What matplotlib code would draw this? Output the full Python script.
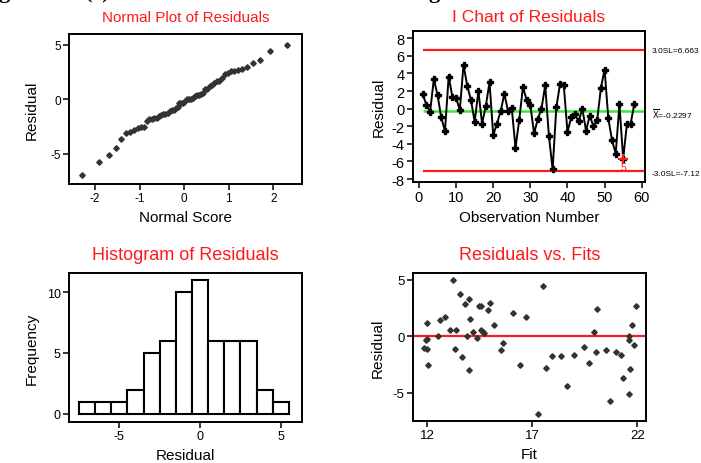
import numpy as np
import matplotlib.pyplot as plt
from matplotlib.transforms import blended_transform_factory
from statistics import NormalDist

plt.rcParams['font.family'] = ['Liberation Sans', 'DejaVu Sans']
plt.rcParams['axes.unicode_minus'] = False

# residuals in observation order
residuals = [1.65, 0.45, -0.35, 3.35, 1.55, -1.0, -2.55, 3.65, 1.35, 1.2,
             -0.15, 5.0, 2.6, 1.0, -1.5, 2.0, -1.7, 0.3, 3.0, -3.0,
             -1.7, -0.3, 1.7, -0.3, 0.05, -4.45, -1.3, 2.45, 1.0, 0.4,
             -2.8, -1.2, 0.0, 2.65, -3.1, -6.9, 0.15, 2.8, 2.7, -2.65,
             -1.0, -0.65, -1.45, 0.0, -2.5, -0.8, -2.0, -1.3, 2.35, 4.45,
             -1.1, -3.6, -5.1, 0.5, -5.7, -1.8, -1.75, 0.55]

# control chart values
ucl = 6.663
center = -0.2297
lcl = -7.12
flag_obs = 55
flag_test = "5"

# fitted values and residuals
fits = [11.84, 11.95, 12.0, 12.0, 12.0, 12.06, 12.54, 12.62, 12.83, 13.08,
        13.25, 13.32, 13.38, 13.57, 13.67, 13.79, 13.92, 13.98, 13.98, 14.05,
        14.19, 14.35, 14.48, 14.56, 14.56, 14.67, 14.71, 14.89, 14.97, 15.17,
        15.51, 15.59, 16.08, 16.41, 16.70, 17.25, 17.52, 17.65, 17.92, 18.35,
        18.63, 18.97, 19.46, 19.71, 19.94, 20.02, 20.06, 20.49, 20.70, 20.97,
        21.24, 21.33, 21.59, 21.59, 21.59, 21.65, 21.73, 21.83, 21.94]
fit_resid = [-1.03, -0.35, -0.24, 1.18, -1.15, -2.53, 0.0, 1.41, 1.68, 0.53,
             5.0, -1.12, 0.53, 3.74, -1.88, 2.82, 0.0, 3.32, -3.03, 1.53,
             0.41, -0.15, 2.71, 2.71, 0.53, 0.38, 0.24, 2.32, 2.94, 1.03,
             -1.26, -0.62, 2.06, -2.53, 1.68, -6.85, 4.47, -2.79, -1.76, -1.76,
             -4.44, -1.62, -0.97, -2.38, 0.41, -1.38, 2.41, -1.24, -5.74, -1.38,
             -1.62, -3.68, 0.0, -0.35, -5.09, -2.88, 1.0, -0.76, 2.68]

RED = '#ff1a1a'


def style(ax, tick_size):
    for s in ax.spines.values():
        s.set_linewidth(1.4)
        s.set_color('black')
    ax.tick_params(direction='out', length=4, width=1.1, labelsize=tick_size,
                   top=False, right=False, pad=2)


fig = plt.figure(figsize=(7.01, 4.64), dpi=100)

# header fragments cut off at the top of the page
for x, s in [(-2, 'g'), (85, '(c)'), (428, 'g')]:
    fig.text(x / 701, 1 + 2 / 464, s, family='Liberation Serif', weight='bold',
             fontsize=16, va='baseline', ha='left')

# normal plot
ax1 = fig.add_axes([0.0984, 0.6013, 0.3324, 0.3233])
r_sorted = np.sort(residuals)
n = len(r_sorted)
scores = [NormalDist().inv_cdf((i - 0.375) / (n + 0.25)) for i in range(1, n + 1)]
ax1.plot(scores, r_sorted, 'D', color='#333333', ms=2.8)
ax1.set_xlim(-2.585, 2.64)
ax1.set_ylim(-7.75, 6.0)
ax1.set_xticks([-2, -1, 0, 1, 2])
ax1.set_yticks([-5, 0, 5])
ax1.set_xlabel('Normal Score', fontsize=11, labelpad=4)
ax1.set_ylabel('Residual', fontsize=11, labelpad=8)
ax1.set_title('Normal Plot of Residuals', color=RED, fontsize=11, pad=9)
style(ax1, 8.5)

# I chart
ax2 = fig.add_axes([0.5892, 0.6056, 0.331, 0.3254])
obs = np.arange(1, len(residuals) + 1)
ax2.plot(obs, residuals, '-', color='black', lw=1.4, marker='P', ms=4, zorder=3)
ax2.hlines([ucl, lcl], 1, 60.9, colors=RED, lw=1.6, zorder=2)
ax2.hlines(center, 1, 60.9, colors='#33ee33', lw=1.8, zorder=2)
ax2.plot(flag_obs, residuals[flag_obs - 1], '+', color=RED, ms=7, mew=1.5, zorder=4)
ax2.text(flag_obs, -6.6, flag_test, color=RED, fontsize=7.5, ha='center', va='center')
ax2.set_xlim(-1.6, 60.9)
ax2.set_ylim(-8.34, 8.83)
ax2.set_xticks(range(0, 61, 10))
ax2.set_yticks(range(-8, 9, 2))
ax2.set_xlabel('Observation Number', fontsize=11, labelpad=4)
ax2.set_ylabel('Residual', fontsize=11, labelpad=4)
ax2.set_title('I Chart of Residuals', color=RED, fontsize=12.5, pad=7)
style(ax2, 10.5)
tr = blended_transform_factory(ax2.transAxes, ax2.transData)
ax2.text(1.03, ucl, '3.0SL=%.3f' % ucl, transform=tr, fontsize=6, va='center')
ax2.text(1.03, center - 0.3, r'$\overline{\mathrm{X}}$=%.4f' % center,
         transform=tr, fontsize=6, va='center')
ax2.text(1.03, lcl - 0.3, '-3.0SL=%.2f' % lcl, transform=tr, fontsize=6, va='center')

# histogram
ax3 = fig.add_axes([0.0984, 0.0884, 0.3324, 0.3211])
edges = np.arange(-7.5, 6.0, 1.0)
ax3.hist(residuals, bins=edges, facecolor='white', edgecolor='black', lw=1.5)
ax3.set_xlim(-8.12, 6.31)
ax3.set_ylim(-0.66, 11.56)
ax3.set_xticks([-5, 0, 5])
ax3.set_yticks([0, 5, 10])
ax3.set_xlabel('Residual', fontsize=11, labelpad=4)
ax3.set_ylabel('Frequency', fontsize=11, labelpad=6)
ax3.set_title('Histogram of Residuals', color=RED, fontsize=13, pad=10)
style(ax3, 9)

# residuals vs fits
ax4 = fig.add_axes([0.5892, 0.0905, 0.3324, 0.319])
ax4.axhline(0, color=RED, lw=1.6, zorder=1)
ax4.plot(fits, fit_resid, 'D', color='#333333', ms=2.8, zorder=2)
ax4.set_xlim(11.33, 22.41)
ax4.set_ylim(-7.5, 5.59)
ax4.set_xticks([12, 17, 22])
ax4.set_yticks([-5, 0, 5])
ax4.set_xlabel('Fit', fontsize=11, labelpad=4)
ax4.set_ylabel('Residual', fontsize=11, labelpad=6)
ax4.set_title('Residuals vs. Fits', color=RED, fontsize=13, pad=10)
style(ax4, 9.5)

fig.savefig('out.png', dpi=100)
